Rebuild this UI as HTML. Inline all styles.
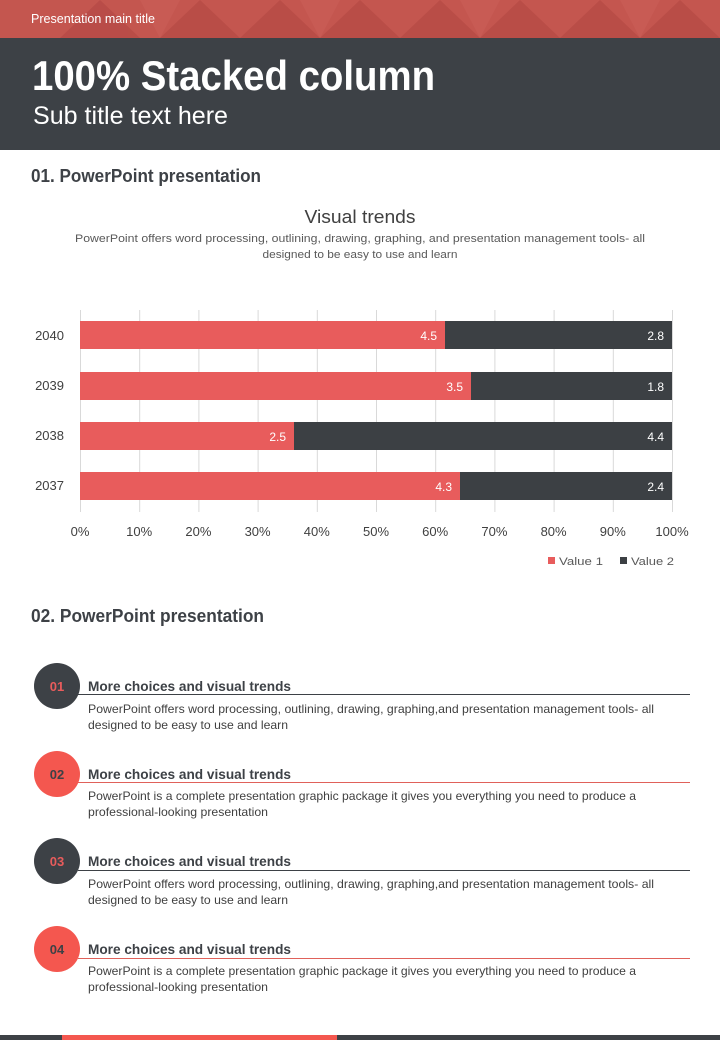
<!DOCTYPE html>
<html><head><meta charset="utf-8"><style>
html,body{margin:0;padding:0;background:#fff;}
svg{display:block;}
text{font-family:"Liberation Sans",sans-serif;}
</style></head><body>
<svg width="720" height="1040" viewBox="0 0 720 1040" xmlns="http://www.w3.org/2000/svg">
<!-- top red band -->
<rect x="0" y="0" width="720" height="38" fill="#c4564f"/>
<g fill="#b64a45" opacity="0.75">
<polygon points="100,0 140,38 60,38"/>
<polygon points="200,0 240,38 160,38"/>
<polygon points="280,0 320,38 240,38"/>
<polygon points="360,0 400,38 320,38"/>
<polygon points="440,0 480,38 400,38"/>
<polygon points="520,0 560,38 480,38"/>
<polygon points="600,0 640,38 560,38"/>
<polygon points="680,0 720,38 640,38"/>
</g>
<g fill="#cc5f58" opacity="0.6">
<polygon points="140,0 180,0 160,38"/>
<polygon points="300,0 340,0 320,38"/>
<polygon points="460,0 500,0 480,38"/>
<polygon points="620,0 660,0 640,38"/>
</g>
<text x="31" y="23" font-size="12.5" fill="#ffffff" textLength="124" lengthAdjust="spacingAndGlyphs">Presentation main title</text>
<!-- dark header -->
<rect x="0" y="38" width="720" height="112" fill="#3d4146"/>
<text x="32" y="90" font-size="42" font-weight="bold" fill="#ffffff" textLength="403" lengthAdjust="spacingAndGlyphs">100% Stacked column</text>
<text x="33" y="124" font-size="25" fill="#ffffff" textLength="195" lengthAdjust="spacingAndGlyphs">Sub title text here</text>

<!-- section 1 -->
<text x="31" y="182" font-size="18" font-weight="bold" fill="#3d4146" textLength="230" lengthAdjust="spacingAndGlyphs">01. PowerPoint presentation</text>
<text x="360" y="223" font-size="18" fill="#404040" text-anchor="middle" textLength="111" lengthAdjust="spacingAndGlyphs">Visual trends</text>
<text x="360" y="242" font-size="11" fill="#595959" text-anchor="middle" textLength="570" lengthAdjust="spacingAndGlyphs">PowerPoint offers word processing, outlining, drawing, graphing, and presentation management tools- all</text>
<text x="360" y="258" font-size="11" fill="#595959" text-anchor="middle" textLength="195" lengthAdjust="spacingAndGlyphs">designed to be easy to use and learn</text>

<!-- gridlines -->
<g stroke="#d9d9d9" stroke-width="1">
<line x1="80.5" y1="310" x2="80.5" y2="512"/>
<line x1="139.7" y1="310" x2="139.7" y2="512"/>
<line x1="198.9" y1="310" x2="198.9" y2="512"/>
<line x1="258.1" y1="310" x2="258.1" y2="512"/>
<line x1="317.3" y1="310" x2="317.3" y2="512"/>
<line x1="376.5" y1="310" x2="376.5" y2="512"/>
<line x1="435.7" y1="310" x2="435.7" y2="512"/>
<line x1="494.9" y1="310" x2="494.9" y2="512"/>
<line x1="554.1" y1="310" x2="554.1" y2="512"/>
<line x1="613.3" y1="310" x2="613.3" y2="512"/>
<line x1="672.5" y1="310" x2="672.5" y2="512"/>
</g>
<!-- bars -->
<rect x="80" y="321" width="365" height="28" fill="#e85c5c"/>
<rect x="445" y="321" width="227" height="28" fill="#3c4044"/>
<rect x="80" y="372" width="391" height="28" fill="#e85c5c"/>
<rect x="471" y="372" width="201" height="28" fill="#3c4044"/>
<rect x="80" y="422" width="214" height="28" fill="#e85c5c"/>
<rect x="294" y="422" width="378" height="28" fill="#3c4044"/>
<rect x="80" y="472" width="380" height="28" fill="#e85c5c"/>
<rect x="460" y="472" width="212" height="28" fill="#3c4044"/>
<g font-size="12" fill="#ffffff" text-anchor="end">
<text x="437" y="340">4.5</text>
<text x="664" y="340">2.8</text>
<text x="463" y="391">3.5</text>
<text x="664" y="391">1.8</text>
<text x="286" y="441">2.5</text>
<text x="664" y="441">4.4</text>
<text x="452" y="491">4.3</text>
<text x="664" y="491">2.4</text>
</g>
<g font-size="13" fill="#404040" text-anchor="end">
<text x="64" y="340">2040</text>
<text x="64" y="390">2039</text>
<text x="64" y="440">2038</text>
<text x="64" y="490">2037</text>
</g>
<g font-size="13" fill="#404040" text-anchor="middle">
<text x="80" y="536">0%</text>
<text x="139.2" y="536">10%</text>
<text x="198.4" y="536">20%</text>
<text x="257.6" y="536">30%</text>
<text x="316.8" y="536">40%</text>
<text x="376" y="536">50%</text>
<text x="435.2" y="536">60%</text>
<text x="494.4" y="536">70%</text>
<text x="553.6" y="536">80%</text>
<text x="612.8" y="536">90%</text>
<text x="672" y="536">100%</text>
</g>
<!-- legend -->
<rect x="548" y="557" width="7" height="7" fill="#e85c5c"/>
<text x="559" y="565" font-size="11" fill="#595959" textLength="44" lengthAdjust="spacingAndGlyphs">Value 1</text>
<rect x="620" y="557" width="7" height="7" fill="#3c4044"/>
<text x="631" y="565" font-size="11" fill="#595959" textLength="43" lengthAdjust="spacingAndGlyphs">Value 2</text>

<!-- section 2 -->
<text x="31" y="622" font-size="18" font-weight="bold" fill="#3d4146" textLength="233" lengthAdjust="spacingAndGlyphs">02. PowerPoint presentation</text>

<!-- item 1 -->
<line x1="78" y1="694.5" x2="690" y2="694.5" stroke="#3d4146" stroke-width="1"/>
<circle cx="57" cy="686" r="23" fill="#3d4146"/>
<text x="57" y="691" font-size="13" font-weight="bold" fill="#e85c5c" text-anchor="middle">01</text>
<text x="88" y="691" font-size="14" font-weight="bold" fill="#3d4146" textLength="203" lengthAdjust="spacingAndGlyphs">More choices and visual trends</text>
<text x="88" y="713" font-size="12" fill="#404040" textLength="566" lengthAdjust="spacingAndGlyphs">PowerPoint offers word processing, outlining, drawing, graphing,and presentation management tools- all</text>
<text x="88" y="729" font-size="12" fill="#404040" textLength="200" lengthAdjust="spacingAndGlyphs">designed to be easy to use and learn</text>

<!-- item 2 -->
<line x1="78" y1="782.5" x2="690" y2="782.5" stroke="#e0615a" stroke-width="1"/>
<circle cx="57" cy="774" r="23" fill="#f4574f"/>
<text x="57" y="779" font-size="13" font-weight="bold" fill="#3d4146" text-anchor="middle">02</text>
<text x="88" y="779" font-size="14" font-weight="bold" fill="#3d4146" textLength="203" lengthAdjust="spacingAndGlyphs">More choices and visual trends</text>
<text x="88" y="800" font-size="12" fill="#404040" textLength="548" lengthAdjust="spacingAndGlyphs">PowerPoint is a complete presentation graphic package it gives you everything you need to produce a</text>
<text x="88" y="816" font-size="12" fill="#404040" textLength="180" lengthAdjust="spacingAndGlyphs">professional-looking presentation</text>

<!-- item 3 -->
<line x1="78" y1="870.5" x2="690" y2="870.5" stroke="#3d4146" stroke-width="1"/>
<circle cx="57" cy="861" r="23" fill="#3d4146"/>
<text x="57" y="866" font-size="13" font-weight="bold" fill="#e85c5c" text-anchor="middle">03</text>
<text x="88" y="866" font-size="14" font-weight="bold" fill="#3d4146" textLength="203" lengthAdjust="spacingAndGlyphs">More choices and visual trends</text>
<text x="88" y="888" font-size="12" fill="#404040" textLength="566" lengthAdjust="spacingAndGlyphs">PowerPoint offers word processing, outlining, drawing, graphing,and presentation management tools- all</text>
<text x="88" y="904" font-size="12" fill="#404040" textLength="200" lengthAdjust="spacingAndGlyphs">designed to be easy to use and learn</text>

<!-- item 4 -->
<line x1="78" y1="958.5" x2="690" y2="958.5" stroke="#e0615a" stroke-width="1"/>
<circle cx="57" cy="949" r="23" fill="#f4574f"/>
<text x="57" y="954" font-size="13" font-weight="bold" fill="#3d4146" text-anchor="middle">04</text>
<text x="88" y="954" font-size="14" font-weight="bold" fill="#3d4146" textLength="203" lengthAdjust="spacingAndGlyphs">More choices and visual trends</text>
<text x="88" y="975" font-size="12" fill="#404040" textLength="548" lengthAdjust="spacingAndGlyphs">PowerPoint is a complete presentation graphic package it gives you everything you need to produce a</text>
<text x="88" y="991" font-size="12" fill="#404040" textLength="180" lengthAdjust="spacingAndGlyphs">professional-looking presentation</text>

<!-- footer -->
<rect x="0" y="1035" width="720" height="5" fill="#3d4146"/>
<rect x="62" y="1035" width="275" height="5" fill="#f4574f"/>
</svg>
</body></html>
